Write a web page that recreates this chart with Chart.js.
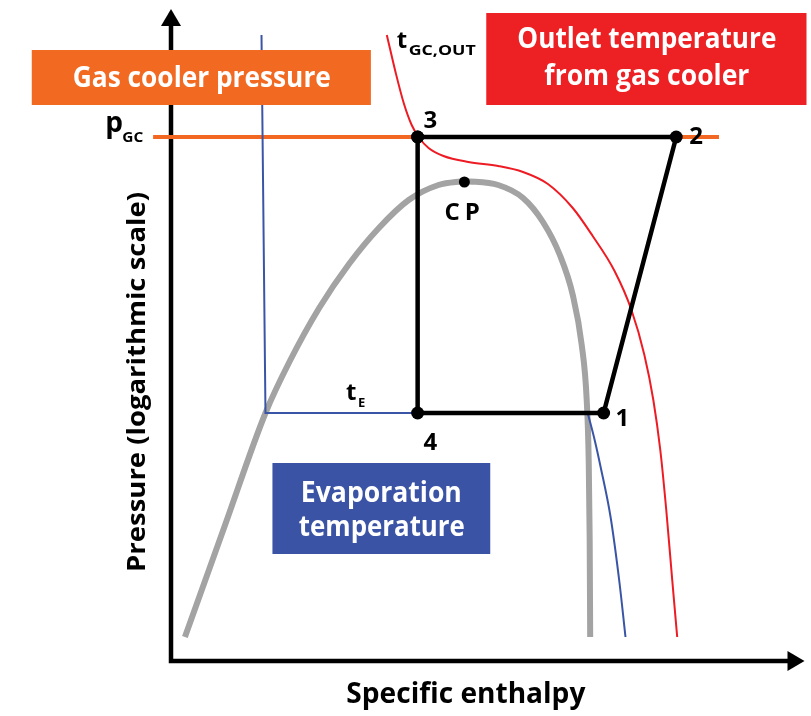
<!DOCTYPE html>
<html>
<head>
<meta charset="utf-8">
<style>
  html, body { margin: 0; padding: 0; background: #fff; }
</style>
<script src="https://cdn.jsdelivr.net/npm/chart.js@4.4.1/dist/chart.umd.min.js"></script>
</head>
<body>
<canvas id="phChart" width="811" height="716"></canvas>
<script>
// p-h diagram, arbitrary units (enthalpy along x, pressure along y)

// saturation dome, liquid side up to the critical point, then vapour side
const domeLeftH = [14, 54, 95, 119, 149, 179, 209, 239, 269, 295];
const domeLeftP = [24, 135, 248, 299, 353, 397, 433, 461, 476, 480];
const domeRightH = [295, 329, 354, 374, 391, 404, 413, 418, 420, 421, 421.5];
const domeRightP = [480, 476, 463, 439, 406, 366, 316, 261, 201, 121, 24];

// evaporation isotherm tE (straight part + superheated part)
const evapLineH = [91, 95, 419];
const evapLineP = [626, 248, 248];
const evapCurveH = [419, 426, 432, 442, 451, 457];
const evapCurveP = [248, 221, 194, 144, 78, 24];

// gas cooler outlet isotherm tGC,OUT
const gcOutH = [217, 226, 234, 242, 249, 259, 274, 299, 329, 354, 379, 404, 424, 446, 463, 476, 485, 492, 498, 504, 509];
const gcOutP = [626, 588, 558, 536, 524, 513, 505, 499, 495, 489, 477, 453, 425, 390, 351, 306, 261, 211, 151, 81, 24];

// gas cooler pressure pGC
const pgcH = [-18, 551];
const pgcP = [524, 524];

// cycle 3 -> 2 -> 1 -> 4 -> 3
const cycleNames = ['3', '2', '1', '4', '3'];
const cycleH = [248, 508, 435, 248, 248];
const cycleP = [524, 524, 248, 248, 524];

// critical point
const cpH = [295];
const cpP = [479];

const FONT = '"Open Sans", "Noto Sans", sans-serif';

const pts = (hs, ps) => hs.map((h, i) => ({ x: h, y: ps[i] }));

// boxes and labels, in diagram units
const boxes = [
    { x0: -140, x1: 201, y0: 611, y1: 556, color: '#f26a22',
      lines: [{ t: 'Gas cooler pressure', x: 31, y: 574, w: 258 }] },
    { x0: 317, x1: 639, y0: 648, y1: 556, color: '#ed2024',
      lines: [{ t: 'Outlet temperature', x: 478.5, y: 613, w: 259 },
              { t: 'from gas cooler', x: 478.5, y: 576, w: 205 }] },
    { x0: 102, x1: 321, y0: 198, y1: 107, color: '#3a53a4',
      lines: [{ t: 'Evaporation', x: 211.5, y: 159, w: 161 },
              { t: 'temperature', x: 212, y: 125, w: 166 }] },
];

const labels = [
    { t: '3', x: 254, y: 533, size: 24 },
    { t: '2', x: 521, y: 517, size: 24 },
    { t: '1', x: 447, y: 235, size: 24 },
    { t: '4', x: 254, y: 211, size: 24 },
    { t: 'CP', x: 275, y: 441, size: 24, spacing: 5 },
    { t: 't', x: 176, y: 261, size: 24 },
    { t: 'E', x: 188, y: 254, size: 13 },
    { t: 't', x: 227, y: 613, size: 24 },
    { t: 'GC,OUT', x: 239, y: 606, size: 14, w: 67 },
    { t: 'p', x: -66, y: 529, size: 28 },
    { t: 'GC', x: -49, y: 519, size: 15, w: 21 },
];

// draws bold text; when w is given the text is squeezed/stretched to that width
function text(ctx, s, x, y, size, w, align) {
    ctx.font = 'bold ' + size + 'px ' + FONT;
    ctx.textAlign = 'left';
    ctx.textBaseline = 'alphabetic';
    const m = ctx.measureText(s).width;
    const sx = w ? w / m : 1;
    const left = align === 'center' ? x - m * sx / 2 : x;
    ctx.save();
    ctx.translate(left, y);
    ctx.scale(sx, 1);
    ctx.fillText(s, 0, 0);
    ctx.restore();
}

const axesPlugin = {
    id: 'phAxes',
    beforeDatasetsDraw(chart) {
        const { ctx, scales: { x, y } } = chart;
        const ox = x.getPixelForValue(0), oy = y.getPixelForValue(0);
        const tx = x.getPixelForValue(x.max), ty = y.getPixelForValue(y.max);
        ctx.save();
        ctx.strokeStyle = '#000';
        ctx.fillStyle = '#000';
        ctx.lineWidth = 4.5;
        ctx.beginPath();
        ctx.moveTo(ox, ty + 14);
        ctx.lineTo(ox, oy);
        ctx.lineTo(tx - 14, oy);
        ctx.stroke();
        ctx.beginPath();
        ctx.moveTo(ox, ty);
        ctx.lineTo(ox - 10, ty + 17);
        ctx.lineTo(ox + 10, ty + 17);
        ctx.closePath();
        ctx.fill();
        ctx.beginPath();
        ctx.moveTo(tx, oy);
        ctx.lineTo(tx - 17, oy - 10);
        ctx.lineTo(tx - 17, oy + 10);
        ctx.closePath();
        ctx.fill();
        ctx.restore();
    },
    afterDatasetsDraw(chart) {
        const { ctx, scales: { x, y } } = chart;
        ctx.save();
        boxes.forEach(b => {
            const l = x.getPixelForValue(b.x0), r = x.getPixelForValue(b.x1);
            const t = y.getPixelForValue(b.y0), bt = y.getPixelForValue(b.y1);
            ctx.fillStyle = b.color;
            ctx.fillRect(l, t, r - l, bt - t);
            ctx.fillStyle = '#fff';
            b.lines.forEach(ln => text(ctx, ln.t, x.getPixelForValue(ln.x), y.getPixelForValue(ln.y), 28, ln.w, 'center'));
        });
        ctx.fillStyle = '#000';
        labels.forEach(lb => {
            ctx.letterSpacing = (lb.spacing || 0) + 'px';
            text(ctx, lb.t, x.getPixelForValue(lb.x), y.getPixelForValue(lb.y), lb.size, lb.w);
        });
        ctx.letterSpacing = '0px';
        // axis titles
        text(ctx, 'Specific enthalpy', x.getPixelForValue(296.5), y.getPixelForValue(-42), 28, 239, 'center');
        ctx.translate(x.getPixelForValue(-26), y.getPixelForValue(279));
        ctx.rotate(-Math.PI / 2);
        text(ctx, 'Pressure (logarithmic scale)', 0, 0, 25, 380, 'center');
        ctx.restore();
    }
};

const line = (data, color, width, order, extra) => Object.assign({
    data, borderColor: color, borderWidth: width, pointRadius: 0,
    fill: false, clip: false, order, tension: 0
}, extra || {});

const smooth = { cubicInterpolationMode: 'monotone' };

const config = {
    type: 'line',
    data: {
        datasets: [
            line(pts(cycleH, cycleP), '#000', 0, 0, {
                showLine: false, pointRadius: 6.5, pointBackgroundColor: '#000', pointBorderWidth: 0
            }),
            line(pts(cpH, cpP), '#000', 0, 0, {
                showLine: false, pointRadius: 5.5, pointBackgroundColor: '#000', pointBorderWidth: 0
            }),
            line(pts(cycleH, cycleP), '#000', 4.5, 1, { borderJoinStyle: 'miter' }),
            line(pts(gcOutH, gcOutP), '#ed1c24', 2, 2, smooth),
            line(pts(evapCurveH, evapCurveP), '#3b55a6', 2, 3, smooth),
            line(pts(evapLineH, evapLineP), '#3b55a6', 2, 3),
            line(pts(domeLeftH, domeLeftP), '#a3a3a3', 6, 4, smooth),
            line(pts(domeRightH, domeRightP), '#a3a3a3', 6, 4, smooth),
            line(pts(pgcH, pgcP), '#f26722', 4, 5),
        ]
    },
    options: {
        responsive: false,
        animation: false,
        devicePixelRatio: 1,
        layout: { padding: { left: 171, right: 3, top: 9, bottom: 55 } },
        plugins: { legend: { display: false }, tooltip: { enabled: false } },
        scales: {
            x: { type: 'linear', min: 0, max: 637, display: false },
            y: { type: 'linear', min: 0, max: 652, display: false }
        }
    },
    plugins: [axesPlugin]
};

const phChart = new Chart(document.getElementById('phChart'), config);
</script>
</body>
</html>
